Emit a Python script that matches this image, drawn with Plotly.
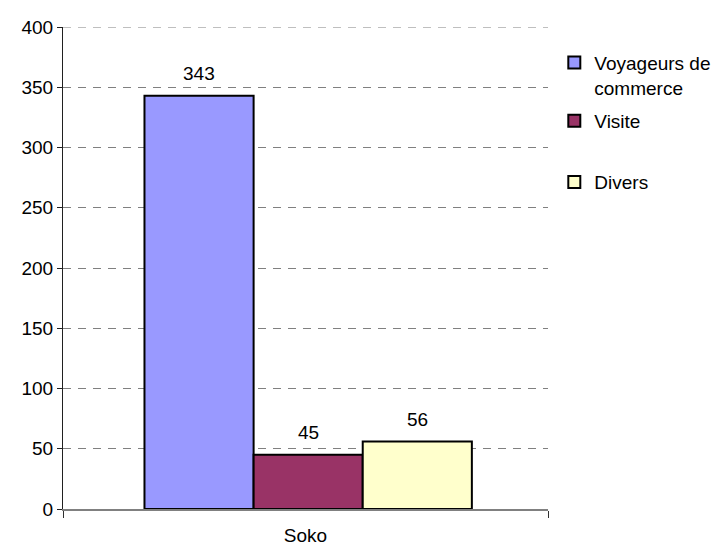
import plotly.graph_objects as go

categories = ["Soko"]
series_names = ["Voyageurs de<br>commerce", "Visite", "Divers"]
series_values = [[343], [45], [56]]
series_colors = ["#9999FF", "#993366", "#FFFFCC"]
y_ticks = [0, 50, 100, 150, 200, 250, 300, 350, 400]
y_max = 400

# bar placement inside the category slot (fractions of the slot width)
bar_width = 0.225
bar_offsets = [-0.332, -0.107, 0.118]

FONT = dict(family="Liberation Sans, Arial, sans-serif", size=19, color="#000000")
GRID = dict(color="#808080", width=1, dash="8px,7px")

fig = go.Figure()
legend_ids = ["legend", "legend2", "legend3"]
for name, vals, color, lg, off in zip(series_names, series_values, series_colors,
                                      legend_ids, bar_offsets):
    fig.add_trace(go.Bar(
        x=categories, y=vals, name=name, width=bar_width, offset=off,
        marker=dict(color=color, line=dict(color="#000000", width=2)),
        legend=lg, showlegend=True,
    ))

# value labels above each bar
annotations = []
for vals, off in zip(series_values, bar_offsets):
    for k, v in enumerate(vals):
        annotations.append(dict(
            x=k + off + bar_width / 2, y=v, xref="x", yref="y", text=str(v),
            showarrow=False, yanchor="bottom", yshift=10, font=FONT,
        ))

# top gridline sits on the edge of the plot area, draw it explicitly
shapes = [dict(type="line", xref="paper", yref="y", x0=0, x1=1,
               y0=y_max, y1=y_max, line=GRID, layer="below")]

legend_common = dict(font=FONT, bgcolor="rgba(0,0,0,0)", xanchor="left",
                     yanchor="middle", valign="top", itemwidth=30)

fig.update_layout(
    width=726, height=547,
    margin=dict(l=63, r=178, t=27, b=38, autoexpand=False),
    paper_bgcolor="#FFFFFF", plot_bgcolor="#FFFFFF",
    font=FONT, showlegend=True,
    barmode="overlay",
    annotations=annotations, shapes=shapes,
    legend=dict(x=1.013, y=0.900, **legend_common),
    legend2=dict(x=1.013, y=0.805, **legend_common),
    legend3=dict(x=1.013, y=0.678, **legend_common),
    xaxis=dict(
        range=[-0.5, len(categories) - 0.5],
        showline=True, linecolor="#808080", linewidth=1.5,
        ticks="outside", tickson="boundaries", ticklen=7, tickcolor="#303030",
        showgrid=False, tickfont=FONT, ticklabelstandoff=8,
    ),
    yaxis=dict(
        range=[0, y_max], tickvals=y_ticks, showline=True, linecolor="#202020",
        linewidth=1, ticks="outside", ticklen=5, tickcolor="#202020",
        showgrid=True, gridcolor=GRID["color"], gridwidth=1, griddash=GRID["dash"],
        zeroline=False, tickfont=FONT,
    ),
)

fig.write_html("out.html")
